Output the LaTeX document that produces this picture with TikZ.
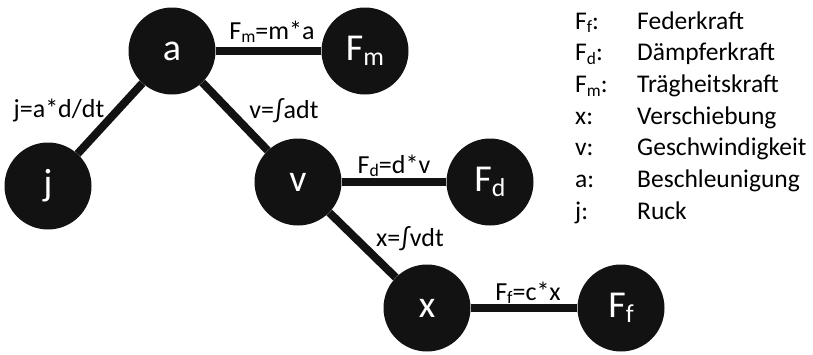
\documentclass[tikz,border=0pt]{standalone}
\usepackage{fontspec}
\setmainfont{Carlito}
\newcommand{\sbs}[1]{\raisebox{-0.3ex}{\scalebox{0.68}{#1}}}
\begin{document}
\begin{tikzpicture}[x=1pt,y=-1pt,
  vnode/.style={circle,fill=black!93,text=white,minimum size=87pt,inner sep=0pt,font=\fontsize{38}{38}\selectfont},
  link/.style={line width=8pt,black!93},
  elabel/.style={font=\fontsize{26}{26}\selectfont,inner sep=0pt,anchor=base},
  legtext/.style={font=\fontsize{25.5}{25.5}\selectfont,anchor=base west,inner sep=0pt}]
\useasboundingbox (0,0) rectangle (813,354);
\node[vnode] (a) at (172,51) {a};
\node[vnode] (Fm) at (365,51) {F\sbs{m}};
\node[vnode] (j) at (48,186) {j};
\node[vnode] (v) at (298,182) {v};
\node[vnode] (Fd) at (490,182) {F\sbs{d}};
\node[vnode] (x) at (427,308) {x};
\node[vnode] (Ff) at (621,308) {F\sbs{f}};
\draw[link] (a) -- (Fm);
\draw[link] (a) -- (j);
\draw[link] (a) -- (v);
\draw[link] (v) -- (Fd);
\draw[link] (v) -- (x);
\draw[link] (x) -- (Ff);
\node[elabel] (lm) at (272,39) {F\sbs{m}=m*a};
\node[elabel] (lj) at (59,117) {j=a*d/dt};
\node[elabel] (lv) at (284,118) {v=∫adt};
\node[elabel] (ld) at (394,173) {F\sbs{d}=d*v};
\node[elabel] (lx) at (410,246) {x=∫vdt};
\node[elabel] (lf) at (528,300) {F\sbs{f}=c*x};
\foreach \k/\s/\t [count=\i from 0] in {Ff/F\sbs{f}:/Federkraft, Fd/F\sbs{d}:/Dämpferkraft, Fm/F\sbs{m}:/Trägheitskraft, x/x:/Verschiebung, v/v:/Geschwindigkeit, a/a:/Beschleunigung, j/j:/Ruck}{
  \node[legtext] (s\k) at (575,{29+\i*31.7}) {\s};
  \node[legtext] (t\k) at (637,{29+\i*31.7}) {\t};
}
\end{tikzpicture}
\end{document}
